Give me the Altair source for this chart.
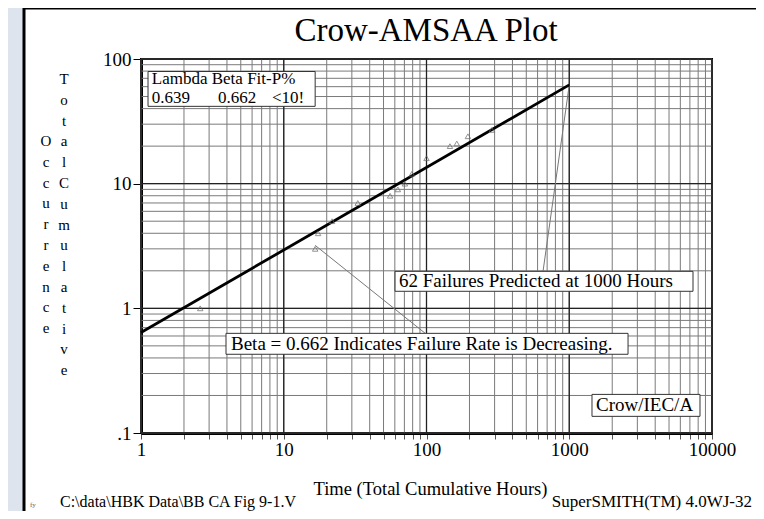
import altair as alt
import pandas as pd

# ---- data ----
fail_time = [2.6, 16.6, 17.4, 21.8, 33.0, 55.6, 63.0, 70.6, 79.0, 100.0, 146.0, 163.0, 195.0, 287.0]
fail_count = [1, 3, 4, 5, 7, 8, 9, 10, 12, 16, 20, 21, 24, 27]

fit_time = [1, 1000]
fit_count = [0.639, 62]

x_grid = [m * 10 ** k for k in range(4) for m in range(1, 10)] + [10000]
y_grid = [round(m * 10.0 ** k, 6) for k in range(-1, 2) for m in range(1, 10)] + [100]
x_major = [1, 10, 100, 1000, 10000]
y_major = [0.1, 1, 10, 100]

# callout leader lines
beta_call_t = [16.6, 98]
beta_call_n = [3.2, 0.63]
pred_call_t = [1000, 655]
pred_call_n = [62, 1.98]

# annotation boxes
box_t1 = [1.12, 3.94, 60.2, 1443]
box_t2 = [16.6, 2581, 7362, 8240]
box_n1 = [79.4, 0.63, 1.98, 0.204]
box_n2 = [41.7, 0.428, 1.37, 0.136]

label_text = ["Lambda Beta Fit-P%", "0.639", "0.662", "<10!",
              "Beta = 0.662 Indicates Failure Rate is Decreasing.",
              "62 Failures Predicted at 1000 Hours", "Crow/IEC/A"]
label_t = [1.19, 1.19, 3.46, 8.27, 4.27, 64.2, 1540]
label_n = [69.5, 48.5, 48.5, 48.5, 0.514, 1.65, 0.167]
label_size = [17, 17, 17, 17, 19, 19, 19]

FONT = "Liberation Serif"

xscale = alt.Scale(type="log", domain=[1, 10000], nice=False)
yscale = alt.Scale(type="log", domain=[0.1, 100], nice=False)

xaxis = alt.Axis(
    values=x_grid, grid=False,
    labelExpr="indexof([1,10,100,1000,10000], datum.value) >= 0 ? format(datum.value, 'd') : ''",
    tickSize=6, tickColor="#555", labelFont=FONT, labelFontSize=19, labelColor="black",
    labelPadding=1, domainColor="black", domainWidth=3, labelFlush=False, labelOverlap=False,
    title="Time (Total Cumulative Hours)", titleFont=FONT, titleFontSize=18.5,
    titleFontWeight="normal", titleColor="black", titleX=289, titleY=61,
    titleBaseline="alphabetic", titleAlign="center", titleAnchor="middle",
)
yaxis = alt.Axis(
    values=y_major, grid=False,
    labelExpr="datum.value == 0.1 ? '.1' : format(datum.value, 'd')",
    tickSize=8, tickColor="black", labelFont=FONT, labelFontSize=19, labelColor="black",
    labelPadding=2, domainColor="black", domainWidth=3, labelFlush=False, labelOverlap=False,
    title=None,
)

X = lambda f="t": alt.X(f"{f}:Q", scale=xscale, axis=xaxis)
Y = lambda f="n": alt.Y(f"{f}:Q", scale=yscale, axis=yaxis)

one = pd.DataFrame({"a": [0]})

# decorative page pieces
strip = alt.Chart(one).mark_rect(color="#dde4ee").encode(
    x=alt.value(-133), x2=alt.value(-118), y=alt.value(-51), y2=alt.value(452))
frame_left = alt.Chart(one).mark_rule(color="black", strokeWidth=3).encode(
    x=alt.value(-117), y=alt.value(-51), y2=alt.value(452))
frame_top = alt.Chart(one).mark_rule(color="black", strokeWidth=2).encode(
    x=alt.value(-117), x2=alt.value(620), y=alt.value(-50.5))

grid_xm = alt.Chart(pd.DataFrame({"t": x_grid})).mark_rule(color="#7a7a7a", strokeWidth=1).encode(x=X())
grid_ym = alt.Chart(pd.DataFrame({"n": y_grid})).mark_rule(color="#7a7a7a", strokeWidth=1).encode(y=Y())
grid_xM = alt.Chart(pd.DataFrame({"t": x_major})).mark_rule(color="#222", strokeWidth=1.3).encode(x=X())
grid_yM = alt.Chart(pd.DataFrame({"n": y_major})).mark_rule(color="#222", strokeWidth=1.3).encode(y=Y())

boxes = alt.Chart(pd.DataFrame({"t": box_t1, "t2": box_t2, "n": box_n1, "n2": box_n2})).mark_rect(
    fill="white", stroke="#333", strokeWidth=1).encode(
    x=X(), x2="t2:Q", y=Y(), y2="n2:Q")

beta_call = alt.Chart(pd.DataFrame({"t": beta_call_t, "n": beta_call_n})).mark_line(
    color="#777", strokeWidth=1).encode(x=X(), y=Y())
pred_call = alt.Chart(pd.DataFrame({"t": pred_call_t, "n": pred_call_n})).mark_line(
    color="#777", strokeWidth=1).encode(x=X(), y=Y())

fit = alt.Chart(pd.DataFrame({"t": fit_time, "n": fit_count})).mark_line(
    color="black", strokeWidth=2.8).encode(x=X(), y=Y())

pts = alt.Chart(pd.DataFrame({"t": fail_time, "n": fail_count})).mark_point(
    shape="triangle-up", filled=False, color="#666", size=30, strokeWidth=1).encode(x=X(), y=Y())

labels = alt.Chart(pd.DataFrame({"t": label_t, "n": label_n, "s": label_text, "fs": label_size})).mark_text(
    align="left", baseline="middle", font=FONT, color="black").encode(
    x=X(), y=Y(), text="s:N", size=alt.Size("fs:Q", scale=None, legend=None))

title = alt.Chart(one).mark_text(
    align="center", baseline="alphabetic", font=FONT, fontSize=33, color="black").encode(
    x=alt.value(285), y=alt.value(-18), text=alt.value("Crow-AMSAA Plot"))

col_occ = alt.Chart(one).mark_text(
    align="center", baseline="top", font=FONT, fontSize=15, color="black",
    lineBreak="\n", lineHeight=20.8).encode(
    x=alt.value(-95), y=alt.value(75), text=alt.value("\n".join("Occurrence")))
col_tot = alt.Chart(one).mark_text(
    align="center", baseline="top", font=FONT, fontSize=15, color="black",
    lineBreak="\n", lineHeight=20.8).encode(
    x=alt.value(-77), y=alt.value(13),
    text=alt.value("\n".join(list("Total") + [" "] + list("Cumulative"))))

foot_left = alt.Chart(one).mark_text(
    align="left", baseline="alphabetic", font=FONT, fontSize=16, color="black").encode(
    x=alt.value(-81), y=alt.value(448), text=alt.value("C:\\data\\HBK Data\\BB CA Fig 9-1.V"))
foot_right = alt.Chart(one).mark_text(
    align="right", baseline="alphabetic", font=FONT, fontSize=17, color="black").encode(
    x=alt.value(611), y=alt.value(448), text=alt.value("SuperSMITH(TM) 4.0WJ-32"))
foot_fy = alt.Chart(one).mark_text(
    align="left", baseline="alphabetic", font=FONT, fontSize=7, color="#666").encode(
    x=alt.value(-111), y=alt.value(448), text=alt.value("fy"))

chart = alt.layer(
    strip, frame_left, frame_top,
    grid_xm, grid_ym, grid_xM, grid_yM,
    beta_call, pred_call, boxes, fit, pts, labels,
    title, col_occ, col_tot, foot_left, foot_right, foot_fy,
).properties(
    width=571, height=374,
    padding={"left": 133, "top": 51, "right": 44, "bottom": 78},
    autosize=alt.AutoSizeParams(type="none"),
    background="white",
).configure_view(stroke="black", strokeWidth=2)

chart.save("out.html", embed_options={"renderer": "svg", "actions": False})
